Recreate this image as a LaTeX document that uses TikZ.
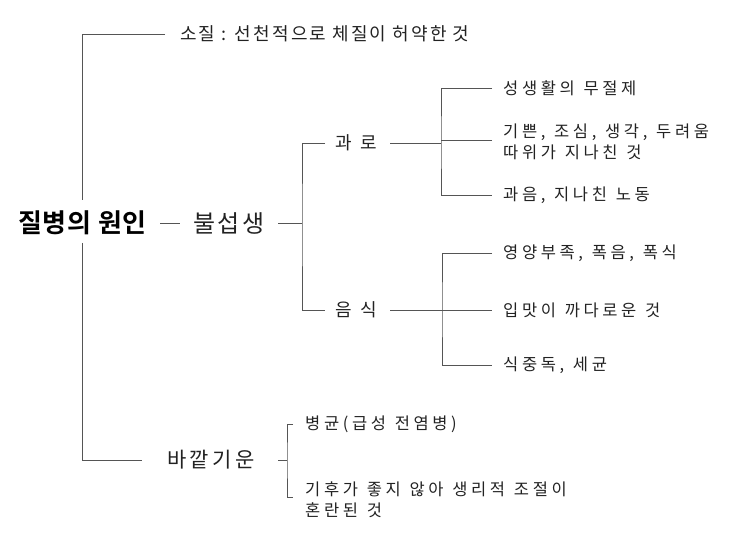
\documentclass[tikz,border=0pt]{standalone}
\usepackage{fontspec}
\setmainfont{Noto Sans CJK KR}
\newfontfamily\leaffont{Noto Sans CJK KR}[LetterSpace=22,WordSpace=1.2]
\newfontfamily\midfont{Noto Sans CJK KR}[LetterSpace=50]
\newfontfamily\bulfont{Noto Sans CJK KR}[LetterSpace=10]
\newfontfamily\sojilfont{Noto Sans CJK KR}[LetterSpace=12]
\newfontfamily\bakfont{Noto Sans CJK KR}[LetterSpace=16]
\newfontfamily\rootfont{Noto Sans CJK KR Bold}[LetterSpace=3]
\definecolor{ln}{HTML}{555555}
\definecolor{tx}{HTML}{222222}
\begin{document}
\begin{tikzpicture}[x=1pt,y=-1pt,
  lbl/.style={anchor=west,inner sep=0pt,text=tx,align=left},
  leaf/.style={lbl,font=\leaffont\fontsize{16.5}{21}\selectfont},
  mid/.style={lbl,font=\midfont\fontsize{18}{20}\selectfont},
  conn/.style={draw=ln,line width=0.8pt}]
\useasboundingbox (0,0) rectangle (732,540);
% nodes
\node[lbl,font=\rootfont\fontsize{26}{28}\selectfont,text=black] (root) at (18,223) {질병의 원인};
\node[lbl,font=\bulfont\fontsize{24}{26}\selectfont] (bul) at (193,223) {불섭생};
\node[lbl,font=\sojilfont\fontsize{18}{20}\selectfont] (sojil) at (180,34) {소질 : 선천적으로 체질이 허약한 것};
\node[mid] (gwaro) at (335,143) {과로};
\node[mid] (eumsik) at (335,310) {음식};
\node[lbl,font=\bakfont\fontsize{21}{23}\selectfont] (bakkat) at (167,460) {바깥기운};
\node[leaf] (l1) at (503,88) {성생활의 무절제};
\node[leaf] (l2) at (503,142) {기쁜, 조심, 생각, 두려움\\따위가 지나친 것};
\node[leaf] (l3) at (503,195) {과음, 지나친 노동};
\node[leaf] (l4) at (503,253) {영양부족, 폭음, 폭식};
\node[leaf] (l5) at (503,310) {입맛이 까다로운 것};
\node[leaf] (l6) at (503,365) {식중독, 세균};
\node[leaf] (b1) at (305,424) {병균(급성 전염병)};
\node[leaf] (b2) at (305,499.5) {기후가 좋지 않아 생리적 조절이\\혼란된 것};
% junction coordinates
\coordinate (tA) at (82,200);
\coordinate (tB) at (82,243);
\coordinate (j1) at (302,223);
\coordinate (j2) at (441,143);
\coordinate (j3) at (442,310);
\coordinate (j4) at (287,460);
% connectors
\draw[conn] ([xshift=-15pt]sojil.west) -| (tA);
\draw[conn] (tB) |- ([xshift=-25pt]bakkat.west);
\draw[conn] ([xshift=142pt]root.west) -- ([xshift=-13pt]bul.west);
\draw[conn] ([xshift=85pt]bul.west) -- (j1);
\draw[conn] ([xshift=-10pt]gwaro.west) -| (j1) |- ([xshift=-10pt]eumsik.west);
\draw[conn] ([xshift=55pt]gwaro.west) -- (j2);
\draw[conn] ([xshift=-11pt]l1.west) -| (j2) |- ([xshift=-11pt]l3.west);
\draw[conn] ([xshift=-11pt,yshift=2pt]l2.west) -- ([yshift=2pt]l2.west -| j2);
\draw[conn] ([xshift=55pt]eumsik.west) -- ([xshift=-11pt]l5.west);
\draw[conn] ([xshift=-11pt]l4.west) -| (j3) |- ([xshift=-11pt]l6.west);
\draw[conn] ([xshift=111pt]bakkat.west) -- (j4);
\draw[conn] ([xshift=-12pt]b1.west) -| (j4) |- ([xshift=-12pt,yshift=2.5pt]b2.west);
\end{tikzpicture}
\end{document}
